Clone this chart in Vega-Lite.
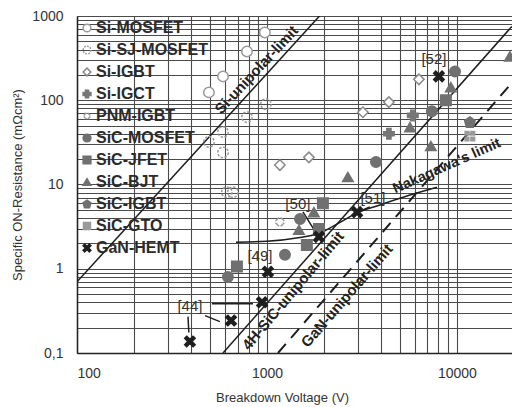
{
  "$schema": "https://vega.github.io/schema/vega-lite/v6.json",
  "width": 435,
  "height": 337,
  "autosize": {"type": "none"},
  "padding": {"left": 77, "top": 16, "right": 0, "bottom": 54},
  "background": "white",
  "config": {
    "view": {"stroke": null},
    "font": "Liberation Sans",
    "axis": {
      "gridColor": "#4a4a4a",
      "gridWidth": 1.1,
      "gridOpacity": 1,
      "domainColor": "#222",
      "domainWidth": 1.5,
      "ticks": false,
      "labelFontSize": 14,
      "labelColor": "#333",
      "labelFont": "Liberation Sans",
      "labelOverlap": false,
      "titleFontSize": 13,
      "titleFontWeight": "normal",
      "titleColor": "#333",
      "titleFont": "Liberation Sans"
    }
  },
  "datasets": {
    "points": [
      {"series": "Si-MOSFET", "V": 975, "R": 638},
      {"series": "Si-MOSFET", "V": 785, "R": 380},
      {"series": "Si-MOSFET", "V": 587, "R": 192},
      {"series": "Si-MOSFET", "V": 495, "R": 124},
      {"series": "Si-SJ-MOSFET", "V": 988, "R": 90},
      {"series": "Si-SJ-MOSFET", "V": 785, "R": 63},
      {"series": "Si-SJ-MOSFET", "V": 587, "R": 42},
      {"series": "Si-SJ-MOSFET", "V": 495, "R": 32},
      {"series": "Si-SJ-MOSFET", "V": 587, "R": 24},
      {"series": "Si-SJ-MOSFET", "V": 615, "R": 8.1},
      {"series": "Si-SJ-MOSFET", "V": 662, "R": 8.1},
      {"series": "Si-IGBT", "V": 1170, "R": 17},
      {"series": "Si-IGBT", "V": 1663, "R": 21},
      {"series": "Si-IGBT", "V": 3200, "R": 72},
      {"series": "Si-IGBT", "V": 4385, "R": 95},
      {"series": "Si-IGBT", "V": 6310, "R": 177},
      {"series": "Si-IGCT", "V": 4385, "R": 40},
      {"series": "Si-IGCT", "V": 5860, "R": 66},
      {"series": "PNM-IGBT", "V": 1170, "R": 3.6},
      {"series": "SiC-MOSFET", "V": 623, "R": 0.8},
      {"series": "SiC-MOSFET", "V": 1493, "R": 3.9},
      {"series": "SiC-MOSFET", "V": 1244, "R": 1.47},
      {"series": "SiC-MOSFET", "V": 3750, "R": 18.5},
      {"series": "SiC-MOSFET", "V": 7380, "R": 74},
      {"series": "SiC-MOSFET", "V": 9770, "R": 220},
      {"series": "SiC-JFET", "V": 695, "R": 1.06},
      {"series": "SiC-JFET", "V": 1970, "R": 6.0},
      {"series": "SiC-JFET", "V": 1622, "R": 1.92},
      {"series": "SiC-JFET", "V": 1878, "R": 2.97},
      {"series": "SiC-JFET", "V": 8750, "R": 100},
      {"series": "SiC-BJT", "V": 1766, "R": 4.7},
      {"series": "SiC-BJT", "V": 1473, "R": 2.9},
      {"series": "SiC-BJT", "V": 2667, "R": 12.3},
      {"series": "SiC-BJT", "V": 5660, "R": 48},
      {"series": "SiC-BJT", "V": 7290, "R": 28.6},
      {"series": "SiC-BJT", "V": 9290, "R": 143},
      {"series": "SiC-BJT", "V": 19000, "R": 332},
      {"series": "SiC-IGBT", "V": 11700, "R": 55},
      {"series": "SiC-GTO", "V": 11700, "R": 37.5},
      {"series": "GaN-HEMT", "V": 393, "R": 0.137},
      {"series": "GaN-HEMT", "V": 647, "R": 0.243},
      {"series": "GaN-HEMT", "V": 942, "R": 0.4},
      {"series": "GaN-HEMT", "V": 1012, "R": 0.92},
      {"series": "GaN-HEMT", "V": 1878, "R": 2.39},
      {"series": "GaN-HEMT", "V": 2980, "R": 4.7},
      {"series": "GaN-HEMT", "V": 8040, "R": 192}
    ],
    "limits": [
      {"line": "Si", "V": 100, "R": 0.7},
      {"line": "Si", "V": 1923, "R": 1042},
      {"line": "4H-SiC", "V": 587, "R": 0.1},
      {"line": "4H-SiC", "V": 19450, "R": 751},
      {"line": "Nakagawa", "V": 687, "R": 2.07},
      {"line": "Nakagawa", "V": 1000, "R": 2.12},
      {"line": "Nakagawa", "V": 1493, "R": 2.35},
      {"line": "Nakagawa", "V": 1860, "R": 2.6},
      {"line": "Nakagawa", "V": 2400, "R": 3.5},
      {"line": "Nakagawa", "V": 2978, "R": 4.6},
      {"line": "Nakagawa", "V": 3935, "R": 5.72},
      {"line": "Nakagawa", "V": 5660, "R": 7.5},
      {"line": "Nakagawa", "V": 7850, "R": 9.3}
    ],
    "gan": [
      {"line": "GaN", "V": 1143, "R": 0.1},
      {"line": "GaN", "V": 20000, "R": 173}
    ],
    "leaders": [
      {"V": 384, "R": 0.27, "V2": 388, "R2": 0.175},
      {"V": 472, "R": 0.278, "V2": 565, "R2": 0.236},
      {"V": 513, "R": 0.385, "V2": 844, "R2": 0.385},
      {"V": 1547, "R": 4.73, "V2": 1855, "R2": 2.46},
      {"V": 3480, "R": 5.42, "V2": 3020, "R2": 4.73}
    ],
    "refs": [
      {"label": "[44]", "V": 393, "R": 0.36},
      {"label": "[49]", "V": 918, "R": 1.43},
      {"label": "[50]", "V": 1455, "R": 5.9},
      {"label": "[51]", "V": 3612, "R": 6.9},
      {"label": "[52]", "V": 7570, "R": 305}
    ],
    "lbl_si": [{"label": "Si-unipolar-limit", "V": 880, "R": 230}],
    "lbl_sic": [{"label": "4H-SiC-unipolar-limit", "V": 1371, "R": 0.55}],
    "lbl_gan": [{"label": "GaN-unipolar-limit", "V": 2636, "R": 0.48}],
    "lbl_nak": [{"label": "Nakagawa's limit", "V": 8850, "R": 16.5}]
  },
  "encoding": {
    "x": {
      "field": "V", "type": "quantitative",
      "scale": {"type": "log", "domain": [100, 19500]},
      "axis": {
        "title": "Breakdown Voltage (V)",
        "values": [100, 200, 300, 400, 500, 600, 700, 800, 900, 1000, 2000, 3000, 4000, 5000, 6000, 7000, 8000, 9000, 10000],
        "labelExpr": "(datum.value == 100 || datum.value == 1000 || datum.value == 10000) ? '' + datum.value : ''",
        "labelPadding": 13,
        "titlePadding": 11,
        "titleX": 205,
        "titleAnchor": "middle"
      }
    },
    "y": {
      "field": "R", "type": "quantitative",
      "scale": {"type": "log", "domain": [0.1, 1000]},
      "axis": {
        "title": "Specific ON-Resistance (mΩcm²)",
        "values": [0.1, 0.2, 0.3, 0.4, 0.5, 0.6, 0.7, 0.8, 0.9, 1, 2, 3, 4, 5, 6, 7, 8, 9, 10, 20, 30, 40, 50, 60, 70, 80, 90, 100, 200, 300, 400, 500, 600, 700, 800, 900, 1000],
        "labelExpr": "datum.value == 0.1 ? '0,1' : ((datum.value == 1 || datum.value == 10 || datum.value == 100 || datum.value == 1000) ? '' + datum.value : '')",
        "labelPadding": 14,
        "titlePadding": 7
      }
    }
  },
  "layer": [
    {
      "data": {"name": "limits"},
      "mark": {"type": "line", "color": "#1e1e1e", "strokeWidth": 1.5, "clip": true, "interpolate": "monotone"},
      "encoding": {"detail": {"field": "line", "type": "nominal"}}
    },
    {
      "data": {"name": "gan"},
      "mark": {"type": "line", "color": "#1e1e1e", "strokeWidth": 2, "strokeDash": [12, 8], "clip": true},
      "encoding": {}
    },
    {
      "data": {"name": "leaders"},
      "mark": {"type": "rule", "color": "#1e1e1e", "strokeWidth": 1.5},
      "encoding": {
        "x2": {"field": "V2"},
        "y2": {"field": "R2"}
      }
    },
    {
      "data": {"name": "refs"},
      "mark": {"type": "text", "fontSize": 15, "color": "#333", "align": "center", "baseline": "middle"},
      "encoding": {"text": {"field": "label"}}
    },
    {
      "data": {"name": "lbl_si"},
      "mark": {"type": "text", "fontSize": 15, "fontWeight": "bold", "color": "#222", "angle": -47, "align": "center", "baseline": "middle"},
      "encoding": {"text": {"field": "label"}}
    },
    {
      "data": {"name": "lbl_sic"},
      "mark": {"type": "text", "fontSize": 15, "fontWeight": "bold", "color": "#222", "angle": -50, "align": "center", "baseline": "middle"},
      "encoding": {"text": {"field": "label"}}
    },
    {
      "data": {"name": "lbl_gan"},
      "mark": {"type": "text", "fontSize": 15, "fontWeight": "bold", "color": "#222", "angle": -49, "align": "center", "baseline": "middle"},
      "encoding": {"text": {"field": "label"}}
    },
    {
      "data": {"name": "lbl_nak"},
      "mark": {"type": "text", "fontSize": 14.5, "fontWeight": "bold", "color": "#222", "angle": -24, "align": "center", "baseline": "middle"},
      "encoding": {"text": {"field": "label"}}
    },
    {
      "data": {"name": "points"},
      "mark": {"type": "point", "size": 110, "opacity": 1, "strokeWidth": 1.5},
      "encoding": {
        "shape": {
          "field": "series", "type": "nominal",
          "scale": {
            "domain": ["Si-MOSFET", "Si-SJ-MOSFET", "Si-IGBT", "Si-IGCT", "PNM-IGBT", "SiC-MOSFET", "SiC-JFET", "SiC-BJT", "SiC-IGBT", "SiC-GTO", "GaN-HEMT"],
            "range": [
              "circle",
              "M1,0L0.97,0.242L0.883,0.469M0.707,0.707L0.515,0.857L0.292,0.956M0,1L-0.242,0.97L-0.469,0.883M-0.707,0.707L-0.857,0.515L-0.956,0.292M-1,0L-0.97,-0.242L-0.883,-0.469M-0.707,-0.707L-0.515,-0.857L-0.292,-0.956M0,-1L0.242,-0.97L0.469,-0.883M0.707,-0.707L0.857,-0.515L0.956,-0.292",
              "diamond",
              "cross",
              "M0.15,-0.85L0.85,-0.15M0.85,0.15L0.15,0.85M-0.15,0.85L-0.85,0.15M-0.85,-0.15L-0.15,-0.85",
              "circle",
              "square",
              "triangle-up",
              "M0,-1L1,-0.3L0.65,1L-0.65,1L-1,-0.3Z",
              "M-0.9,-0.9H-0.2V-0.2H-0.9Z M0.2,-0.9H0.9V-0.2H0.2Z M-0.9,0.2H-0.2V0.9H-0.9Z M0.2,0.2H0.9V0.9H0.2Z",
              "M-1,-0.6L-0.6,-1L0,-0.4L0.6,-1L1,-0.6L0.4,0L1,0.6L0.6,1L0,0.4L-0.6,1L-1,0.6L-0.4,0Z"
            ]
          },
          "legend": {"title": null, "orient": "none", "legendX": 2, "legendY": 4, "labelFontSize": 16, "labelFontWeight": "bold", "labelColor": "#2b2b2b", "labelFont": "Liberation Sans", "symbolSize": 60, "symbolStrokeWidth": 1.5, "rowPadding": 6, "labelOffset": 1, "padding": 0}
        },
        "fill": {
          "field": "series", "type": "nominal",
          "scale": {
            "domain": ["Si-MOSFET", "Si-SJ-MOSFET", "Si-IGBT", "Si-IGCT", "PNM-IGBT", "SiC-MOSFET", "SiC-JFET", "SiC-BJT", "SiC-IGBT", "SiC-GTO", "GaN-HEMT"],
            "range": ["white", "white", "white", "#777777", "white", "#707070", "#707070", "#707070", "#707070", "#9a9a9a", "#1e1e1e"]
          },
          "legend": {"title": null, "orient": "none", "legendX": 2, "legendY": 4, "labelFontSize": 16, "labelFontWeight": "bold", "labelColor": "#2b2b2b", "labelFont": "Liberation Sans", "symbolSize": 60, "symbolStrokeWidth": 1.5, "rowPadding": 6, "labelOffset": 1, "padding": 0}
        },
        "stroke": {
          "field": "series", "type": "nominal",
          "scale": {
            "domain": ["Si-MOSFET", "Si-SJ-MOSFET", "Si-IGBT", "Si-IGCT", "PNM-IGBT", "SiC-MOSFET", "SiC-JFET", "SiC-BJT", "SiC-IGBT", "SiC-GTO", "GaN-HEMT"],
            "range": ["#9a9a9a", "#9a9a9a", "#8a8a8a", "#777777", "#9a9a9a", "#707070", "#707070", "#707070", "#707070", "#9a9a9a", "#1e1e1e"]
          },
          "legend": {"title": null, "orient": "none", "legendX": 2, "legendY": 4, "labelFontSize": 16, "labelFontWeight": "bold", "labelColor": "#2b2b2b", "labelFont": "Liberation Sans", "symbolSize": 60, "symbolStrokeWidth": 1.5, "rowPadding": 6, "labelOffset": 1, "padding": 0}
        }
      }
    }
  ]
}
